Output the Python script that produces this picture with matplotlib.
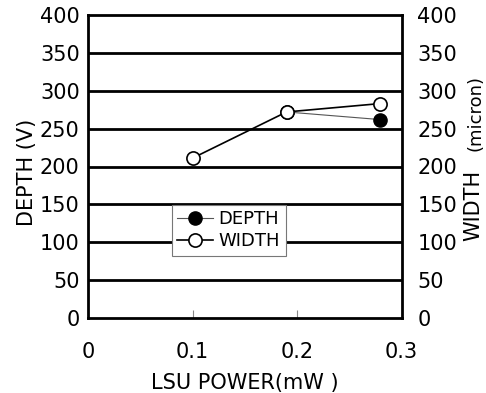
import matplotlib
matplotlib.use("Agg")
import matplotlib.pyplot as plt

# ── data ──────────────────────────────────────────────────────────────────────
power_width = [0.10, 0.19, 0.279]
width = [211, 272, 283]
power_depth = [0.19, 0.279]
depth = [272, 262]

x_ticks = [0, 0.1, 0.2, 0.3]
x_labels = ["0", "0.1", "0.2", "0.3"]
y_ticks = [0, 50, 100, 150, 200, 250, 300, 350, 400]

plt.rcParams["font.family"] = ["DejaVu Sans"]
FS = 15

fig = plt.figure(figsize=(4.86, 3.93), dpi=100)
ax = fig.add_axes([88 / 486, 75 / 393, 313.5 / 486, 303 / 393])

for y in y_ticks[1:-1]:
    ax.axhline(y, color="black", lw=2, zorder=1)

ax.plot(power_depth, depth, color="#555555", lw=0.8, marker="o", ms=9.5,
        mfc="black", mec="black", label="DEPTH", zorder=3)
ax.plot(power_width, width, color="black", lw=1.2, marker="o", ms=9.5,
        mfc="white", mec="black", mew=1.2, label="WIDTH", zorder=4)

ax.set_xlim(0, 0.3)
ax.set_ylim(0, 400)
ax.set_xticks(x_ticks)
ax.set_xticklabels(x_labels, fontsize=FS)
ax.set_yticks(y_ticks)
ax.set_yticklabels([str(v) for v in y_ticks], fontsize=FS)
ax.tick_params(axis="y", length=0, pad=6)
ax.tick_params(axis="x", direction="in", length=6, color="#888888", pad=17)
for s in ax.spines.values():
    s.set_linewidth(2)

ax2 = ax.twinx()
ax2.set_ylim(0, 400)
ax2.set_yticks(y_ticks)
ax2.set_yticklabels([str(v) for v in y_ticks], fontsize=FS)
ax2.tick_params(axis="y", length=0, pad=11.5)
for s in ax2.spines.values():
    s.set_visible(False)

ax.set_xlabel("LSU POWER(mW )", fontsize=FS, labelpad=8)
fig.text(27 / 486, 1 - 172 / 393, "DEPTH (V)", rotation=90, fontsize=FS,
         ha="center", va="center")
fig.text(473 / 486, 1 - 205 / 393, "WIDTH", rotation=90, fontsize=FS,
         ha="center", va="center")
fig.text(475 / 486, 1 - 113 / 393, "(micron)", rotation=90, fontsize=13,
         ha="center", va="center")

leg = ax.legend(loc="lower left", bbox_to_anchor=(0.267, 0.205), fontsize=13,
                frameon=True, fancybox=False, edgecolor="#777777",
                framealpha=1, handlelength=2.0, borderpad=0.3,
                labelspacing=0.25, handletextpad=0.3, borderaxespad=0)
leg.get_frame().set_linewidth(0.8)
leg.set_zorder(5)

fig.savefig("out.png", dpi=100)
